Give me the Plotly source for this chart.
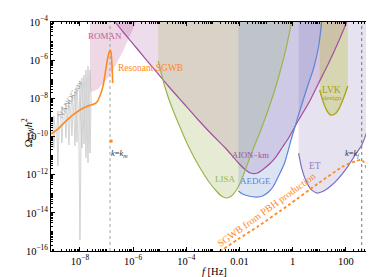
import numpy as np
import plotly.graph_objects as go

# ---------------- data (log10 f [Hz], log10 Omega h^2) ----------------
roman_logf = [-7.623, -7.472, -7.321, -7.132, -6.943, -6.755, -6.566, -6.377, -6.189, -6.0, -5.887]
roman_logo = [-7.669, -7.616, -7.512, -7.249, -6.935, -6.516, -6.044, -5.520, -4.943, -4.314, -4.0]

aion_logf = [-6.679, -6.377, -5.811, -5.245, -4.679, -4.113, -3.547, -2.981, -2.528, -2.038, -1.811,
             -1.585, -1.321, -1.094, -0.830, -0.604, -0.377, -0.151, 0.226, 0.604, 0.981, 1.358, 1.736, 2.038]
aion_logo = [-4.0, -4.524, -5.468, -6.411, -7.354, -8.245, -9.136, -9.975, -10.604, -11.390, -11.704,
             -11.914, -11.914, -11.704, -11.390, -11.023, -10.551, -10.080, -9.136, -8.245, -7.197, -6.149, -4.996, -4.0]

lisa_logf = [-5.057, -4.943, -4.792, -4.604, -4.302, -3.925, -3.547, -3.170, -2.868, -2.679, -2.491, -2.302,
             -2.113, -1.925, -1.736, -1.547, -1.283, -1.057, -0.830, -0.604, -0.415, -0.226, -0.038]
lisa_logo = [-6.044, -6.673, -7.459, -8.245, -9.294, -10.499, -11.495, -12.333, -12.857, -13.119, -13.224, -13.119,
             -12.805, -12.281, -11.600, -10.866, -9.975, -9.136, -8.245, -7.249, -6.306, -5.258, -4.0]

aedge_logf = [-2.038, -1.887, -1.660, -1.358, -1.132, -0.906, -0.717, -0.528, -0.302, -0.038, 0.302, 0.566, 0.792, 0.981, 1.094]
aedge_logo = [-12.857, -13.015, -13.119, -13.172, -13.119, -12.910, -12.595, -12.071, -11.390, -10.080, -8.507, -7.354, -6.411, -5.258, -4.0]

et_logf = [0.226, 0.340, 0.491, 0.679, 0.906, 1.170, 1.434, 1.736, 2.113, 2.377, 2.604, 2.830, 3.057, 3.208, 3.321]
et_logo = [-10.866, -11.652, -12.281, -12.753, -12.962, -12.857, -12.595, -12.176, -11.495, -10.918, -10.447, -9.608, -8.665, -7.983, -7.354]

lvk_logf = [1.019, 1.094, 1.208, 1.321, 1.434, 1.585, 1.736, 1.887, 2.0, 2.075]
lvk_logo = [-7.564, -7.931, -8.403, -8.717, -8.874, -8.822, -8.560, -8.088, -7.669, -7.354]

nano_logf = [-8.981, -8.830, -8.679, -8.528, -8.415, -8.302, -8.189, -8.113, -8.0, -7.925, -7.849, -7.774, -7.698, -7.623]
nano_top = [-8.927, -8.665, -8.403, -8.245, -8.088, -7.878, -7.616, -7.459, -7.092, -6.935, -6.778, -6.516, -6.306, -6.516]
nano_bot = [-10.604, -11.547, -10.342, -10.080, -10.447, -9.975, -10.499, -10.289, -15.426, -10.604, -10.394, -11.128, -11.390, -10.866]

res_logf = [-9.094, -8.83, -8.53, -8.26, -8.0, -7.70, -7.47, -7.36, -7.25, -7.13, -7.02, -6.94, -6.87, -6.83, -6.79, -6.77]
res_logo = [-9.87, -9.61, -9.19, -8.87, -8.61, -8.40, -8.30, -8.19, -7.88, -7.35, -6.41, -5.78, -5.47, -5.62, -6.41, -7.20]
res_dot_logf = [-6.83]
res_dot_logo = [-10.24]

pbh_logf = [-2.75, -2.604, -2.04, -1.28, -0.15, 0.98, 1.92, 2.377, 2.566, 2.68, 2.87, 3.06, 3.21, 3.28]
pbh_logo = [-16.0, -15.90, -15.37, -14.69, -13.59, -12.44, -11.55, -11.29, -11.23, -11.34, -12.07, -12.70, -13.22, -13.64]

km_logf = -6.87
kf_logf = 2.60

xtick_labels = {-8: "10<sup>−8</sup>", -6: "10<sup>−6</sup>", -4: "10<sup>−4</sup>", -2: "0.01", 0: "1", 2: "100"}
ytick_labels = {e: "10<sup>−%d</sup>" % (-e) for e in range(-16, -3, 2)}

X_RANGE = [-9.09, 3.25]
Y_RANGE = [-16, -4]

# ---------------- figure ----------------
def P(a):
    return np.power(10.0, np.asarray(a, dtype=float))

fig = go.Figure()
TOP = Y_RANGE[1]


def region(logf, logo, fillcolor, right_ext=None):
    xs = list(logf)
    ys = list(logo)
    if right_ext is not None:
        xs += [right_ext, right_ext]
        ys += [ys[-1], TOP]
    else:
        xs += [xs[-1]]
        ys += [TOP]
    xs += [logf[0], logf[0]]
    ys += [TOP, logo[0]]
    fig.add_trace(go.Scatter(x=P(xs), y=P(ys), mode="lines", fill="toself",
                             fillcolor=fillcolor, line=dict(width=0), hoverinfo="skip",
                             showlegend=False))


region(roman_logf, roman_logo, "rgba(192,98,152,0.25)")
region(aion_logf, aion_logo, "rgba(160,80,160,0.20)")
region(lisa_logf, lisa_logo, "rgba(172,192,112,0.30)")
region(aedge_logf, aedge_logo, "rgba(115,147,211,0.25)")
region(et_logf, et_logo, "rgba(130,110,180,0.20)", right_ext=3.6)
region(lvk_logf, lvk_logo, "rgba(183,186,40,0.30)")

# NANOGrav violins (thin kites)
w = 0.045
for lf, t, b in zip(nano_logf, nano_top, nano_bot):
    m = t + 0.35 * (b - t)
    xs = [lf, lf + w, lf, lf - w, lf]
    ys = [t, m, b, m, t]
    fig.add_trace(go.Scatter(x=P(xs), y=P(ys), mode="lines", fill="toself",
                             fillcolor="rgba(220,220,220,0.35)",
                             line=dict(color="#b0b0b0", width=0.5),
                             hoverinfo="skip", showlegend=False))


def curve(logf, logo, color, width=1.2, dash=None):
    fig.add_trace(go.Scatter(x=P(logf), y=P(logo), mode="lines",
                             line=dict(color=color, width=width, dash=dash, shape="spline", smoothing=0.6),
                             hoverinfo="skip", showlegend=False))


curve(aion_logf, aion_logo, "#a24fa2")
curve(lisa_logf, lisa_logo, "#9bb44c")
curve(aedge_logf, aedge_logo, "#5c84dc")
curve(et_logf, et_logo, "#7d6cbf")
curve(lvk_logf, lvk_logo, "#a8a818", width=1.4)

# dotted reference lines
for lf, col in [(km_logf, "#9a9a9a"), (kf_logf, "#666666")]:
    fig.add_trace(go.Scatter(x=P([lf, lf]), y=P(Y_RANGE), mode="lines",
                             line=dict(color=col, width=0.9, dash="dot"),
                             hoverinfo="skip", showlegend=False))

# resonant SGWB
curve(res_logf, res_logo, "#ff8a1c", width=1.6)
fig.add_trace(go.Scatter(x=P(res_dot_logf), y=P(res_dot_logo), mode="markers",
                         marker=dict(color="#ff8a1c", size=3, symbol="square"),
                         hoverinfo="skip", showlegend=False))
# PBH SGWB
curve(pbh_logf, pbh_logo, "#ff8a1c", width=1.8, dash="3px,2.5px")

SERIF = "Liberation Serif, Times New Roman, serif"


def label(text, lx, ly, color, size=9, angle=0, xanchor="center"):
    fig.add_annotation(x=lx, y=ly, xref="x", yref="y", text=text, showarrow=False,
                       font=dict(family=SERIF, size=size, color=color), textangle=angle,
                       xanchor=xanchor, yanchor="middle")


label("ROMAN", -7.057, -4.734, "#c0609a", 9)
label("Resonant SGWB", -6.642, -6.411, "#ff8a1c", 9.5, xanchor="left")
label("<i>k</i>=<i>k</i><sub><i>m</i></sub>", -6.906, -10.866, "#333333", 8.5, xanchor="left")
label("<i>k</i>=<i>k</i><sub><i>f</i></sub>", 2.604, -10.866, "#333333", 8.5, xanchor="right")
label("LISA", -2.528, -12.228, "#9bb44c", 9)
label("AEDGE", -1.396, -12.333, "#5c84dc", 9)
label("AION−km", -1.585, -10.971, "#a24fa2", 8.5)
label("ET", 0.830, -11.547, "#8c84c8", 9.5)
label("LVK", 1.472, -7.564, "#a0a020", 9.5)
label("design", 1.509, -7.983, "#a0a020", 7)
label("NANOGrav", -8.377, -8.036, "#999999", 8.5, angle=-60)
label("SGWB from PBH production", -0.98, -13.83, "#ff8a1c", 10, angle=-36)

# axis titles
fig.add_annotation(x=-0.10, y=0.515, xref="paper", yref="paper",
                   text="Ω<sub>GW</sub><i>h</i><sup>2</sup>", showarrow=False, textangle=-90,
                   font=dict(family=SERIF, size=10.5, color="black"))
fig.add_annotation(x=0.497, y=-0.122, xref="paper", yref="paper",
                   text="<i>f</i> [Hz]", showarrow=False,
                   font=dict(family=SERIF, size=10.5, color="black"))

xmaj = sorted(xtick_labels)
ymaj = sorted(ytick_labels)
xminor = [m * 10.0 ** e for e in range(-10, 4) for m in range(1, 10) if not (m == 1 and e in xtick_labels)]
yminor = [m * 10.0 ** e for e in range(-17, -3) for m in range(1, 10) if not (m == 1 and e in ytick_labels)]

axis_common = dict(type="log", showgrid=False, zeroline=False, showline=True,
                   linecolor="black", linewidth=1, mirror="allticks", ticks="inside",
                   ticklen=4, tickwidth=0.8, tickcolor="black",
                   tickfont=dict(family=SERIF, size=10.5, color="black"))

fig.update_xaxes(range=X_RANGE, tickmode="array",
                 tickvals=[10.0 ** e for e in xmaj],
                 ticktext=[xtick_labels[e] for e in xmaj],
                 minor=dict(tickmode="array", tickvals=xminor, ticks="inside", ticklen=2,
                            tickwidth=0.6, tickcolor="black", showgrid=False),
                 **axis_common)
fig.update_yaxes(range=Y_RANGE, tickmode="array",
                 tickvals=[10.0 ** e for e in ymaj],
                 ticktext=[ytick_labels[e] for e in ymaj],
                 minor=dict(tickmode="array", tickvals=yminor, ticks="inside", ticklen=2,
                            tickwidth=0.6, tickcolor="black", showgrid=False),
                 **axis_common)

fig.update_layout(width=374, height=277, margin=dict(l=43, r=3, t=14, b=34, autoexpand=False),
                  paper_bgcolor="white", plot_bgcolor="white", showlegend=False,
                  font=dict(family=SERIF))

fig.write_html("out.html")
